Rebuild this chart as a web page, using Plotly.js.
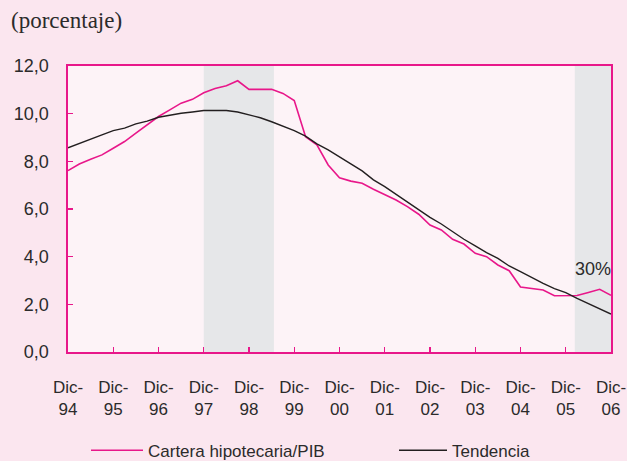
<!DOCTYPE html>
<html>
<head>
<meta charset="utf-8">
<script src="https://cdn.plot.ly/plotly-3.0.1.min.js"></script>
<style>
html,body{margin:0;padding:0;background:#fbe6ef;}
#chart{width:627px;height:461px;}
</style>
</head>
<body>
<div id="chart"></div>
<script>
// Quarterly observations, Dic-94 (index 0) to Dic-06 (index 48)
const quarters = Array.from({length: 49}, (_, i) => i);
const tickPositions = [0, 4, 8, 12, 16, 20, 24, 28, 32, 36, 40, 44, 48];
const tickLabels = ["Dic-<br>94","Dic-<br>95","Dic-<br>96","Dic-<br>97","Dic-<br>98","Dic-<br>99","Dic-<br>00","Dic-<br>01","Dic-<br>02","Dic-<br>03","Dic-<br>04","Dic-<br>05","Dic-<br>06"];

const carteraPIB = [
  7.61, 7.89, 8.09, 8.27, 8.55, 8.83, 9.18, 9.53, 9.88, 10.16,
  10.44, 10.60, 10.88, 11.06, 11.17, 11.38, 11.02, 11.02, 11.02, 10.85,
  10.55, 9.03, 8.69, 7.85, 7.31, 7.17, 7.08, 6.83, 6.62, 6.38,
  6.10, 5.78, 5.33, 5.12, 4.73, 4.53, 4.14, 4.00, 3.65, 3.41,
  2.73, 2.66, 2.60, 2.36, 2.36, 2.37, 2.50, 2.63, 2.38
];
const tendencia = [
  8.57, 8.76, 8.94, 9.11, 9.29, 9.39, 9.57, 9.69, 9.85, 9.95,
  10.02, 10.07, 10.13, 10.13, 10.13, 10.07, 9.96, 9.83, 9.66, 9.48,
  9.29, 9.06, 8.73, 8.48, 8.20, 7.89, 7.60, 7.22, 6.94, 6.62,
  6.27, 5.96, 5.65, 5.37, 5.05, 4.73, 4.45, 4.17, 3.93, 3.61,
  3.37, 3.12, 2.88, 2.66, 2.49, 2.25, 2.04, 1.83, 1.59
];
const shadedPeriods = [[12, 18.2], [44.8, 48]];
const yTicks = [0, 2, 4, 6, 8, 10, 12];

const pink = "#e8178a";
const font = "'Liberation Sans', Arial, sans-serif";
const txt = "#2b2b2b";

const traces = [
  {x: quarters, y: carteraPIB, type: "scatter", mode: "lines", name: "Cartera hipotecaria/PIB",
   line: {color: pink, width: 1.6}, legend: "legend"},
  {x: quarters, y: tendencia, type: "scatter", mode: "lines", name: "Tendencia",
   line: {color: "#231f20", width: 1.4}, legend: "legend2"}
];

const shapes = shadedPeriods.map(p => ({
  type: "rect", xref: "x", yref: "paper", x0: p[0], x1: p[1], y0: 0, y1: 1,
  fillcolor: "#e6e7e9", line: {width: 0}, layer: "below"
}));

const legendCommon = {orientation: "h", xanchor: "left", y: -0.345, yanchor: "middle",
  bgcolor: "rgba(0,0,0,0)", font: {family: font, size: 17, color: txt}};

const layout = {
  width: 627, height: 461,
  paper_bgcolor: "#fbe6ef",
  plot_bgcolor: "#fdf3f7",
  margin: {l: 68, r: 16, t: 66, b: 109, autoexpand: false},
  separators: ",.",
  font: {family: font, size: 17, color: txt},
  showlegend: true,
  legend: Object.assign({}, legendCommon, {x: (86 - 68) / 543, itemwidth: 52}),
  legend2: Object.assign({}, legendCommon, {x: (394 - 68) / 543, itemwidth: 48}),
  xaxis: {range: [0, 48], tickvals: tickPositions, ticktext: tickLabels,
          ticks: "inside", ticklen: 5, tickcolor: pink, tickwidth: 1.2,
          showline: true, linecolor: pink, linewidth: 1.6, mirror: true,
          showgrid: false, zeroline: false, ticklabelstandoff: 19,
          ticklabeloverflow: "allow",
          tickfont: {family: font, size: 17, color: txt}},
  yaxis: {range: [0, 12], tickvals: yTicks, tickformat: ".1f",
          ticks: "inside", ticklen: 5, tickcolor: pink, tickwidth: 1.2,
          showline: true, linecolor: pink, linewidth: 1.6, mirror: true,
          showgrid: false, zeroline: false, ticklabelstandoff: 14,
          tickfont: {family: font, size: 18, color: txt}},
  shapes: shapes,
  annotations: [
    {text: "(porcentaje)", xref: "paper", yref: "paper", x: (9 - 68) / 543, y: 1 + (66 - 20) / 286,
     xanchor: "left", yanchor: "middle", showarrow: false,
     font: {family: "'Liberation Serif', 'DejaVu Serif', serif", size: 23, color: txt}},
    {text: "30%", xref: "x", yref: "y", x: 46.4, y: 3.5, showarrow: false,
     font: {family: font, size: 18, color: txt}}
  ]
};

Plotly.newPlot("chart", traces, layout, {displayModeBar: false, staticPlot: true});
</script>
</body>
</html>
